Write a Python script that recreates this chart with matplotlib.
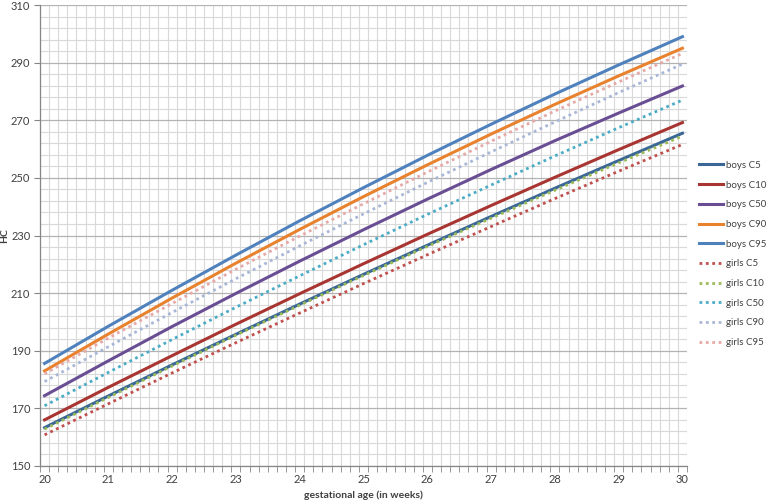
import numpy as np
import matplotlib
matplotlib.use("Agg")
import matplotlib.pyplot as plt
from matplotlib.ticker import FixedLocator

plt.rcParams['font.family'] = ['Lato', 'DejaVu Sans']

# gestational age (weeks) and head circumference values
weeks = [20, 21, 22, 23, 24, 25, 26, 27, 28, 29, 30]

boys_c5 = [163.3, 174.3, 185.1, 195.7, 206.2, 216.5, 226.6, 236.6, 246.4, 256.0, 265.5]
boys_c10 = [166.0, 177.3, 188.3, 199.2, 209.8, 220.2, 230.4, 240.4, 250.2, 259.8, 269.2]
boys_c50 = [174.4, 186.5, 198.4, 209.9, 221.1, 232.0, 242.6, 252.9, 262.9, 272.5, 281.9]
boys_c90 = [183.0, 195.8, 208.3, 220.4, 232.1, 243.5, 254.5, 265.2, 275.5, 285.4, 295.0]
boys_c95 = [185.6, 198.5, 211.0, 223.2, 235.1, 246.6, 257.8, 268.6, 279.1, 289.2, 299.0]

girls_c5 = [160.8, 171.6, 182.3, 192.8, 203.1, 213.3, 223.3, 233.1, 242.8, 252.3, 261.6]
girls_c10 = [162.8, 173.8, 184.7, 195.4, 205.8, 216.1, 226.2, 236.0, 245.7, 255.2, 264.5]
girls_c50 = [170.9, 182.5, 193.9, 205.1, 216.0, 226.8, 237.3, 247.5, 257.6, 267.4, 277.0]
girls_c90 = [179.3, 191.4, 203.3, 215.0, 226.4, 237.5, 248.4, 259.0, 269.4, 279.6, 289.5]
girls_c95 = [182.0, 194.4, 206.4, 218.3, 229.8, 241.0, 252.0, 262.7, 273.2, 283.3, 293.2]

y_ticks = list(range(150, 311, 20))

fig = plt.figure(figsize=(7.78, 5.03), dpi=100)
ax = fig.add_axes([40/778, 1 - 466/503, (687 - 40)/778, (466 - 5)/503])

# boys: solid lines
ax.plot(weeks, boys_c5, color='#3A6795', lw=2.2, label='boys C5')
ax.plot(weeks, boys_c10, color='#A83532', lw=2.2, label='boys C10')
ax.plot(weeks, boys_c50, color='#6A4E94', lw=2.2, label='boys C50')
ax.plot(weeks, boys_c90, color='#E8822E', lw=2.2, label='boys C90')
ax.plot(weeks, boys_c95, color='#4F81BD', lw=2.2, label='boys C95')

# girls: dotted lines
dots = (0, (1, 1.3))
ax.plot(weeks, girls_c5, color='#C0504D', lw=2, ls=dots, label='girls C5')
ax.plot(weeks, girls_c10, color='#9BBB59', lw=2, ls=dots, label='girls C10')
ax.plot(weeks, girls_c50, color='#4BACC6', lw=2, ls=dots, label='girls C50')
ax.plot(weeks, girls_c90, color='#A9B7D6', lw=2, ls=dots, label='girls C90')
ax.plot(weeks, girls_c95, color='#E6A9A7', lw=2, ls=dots, label='girls C95')

half = 1 / 14
ax.set_xlim(20 - half, 30 + half)
ax.set_ylim(150, 310)

ax.xaxis.set_major_locator(FixedLocator(weeks))
day_edges = [20 - half + k / 7 for k in range(72)]
ax.xaxis.set_minor_locator(FixedLocator(day_edges))
ax.yaxis.set_major_locator(FixedLocator(y_ticks))
ax.yaxis.set_minor_locator(FixedLocator(list(range(150, 311, 4))))

ax.grid(which='minor', color='#D9D9D9', lw=0.8)
ax.grid(which='major', axis='y', color='#B3B3B3', lw=0.9)
ax.set_axisbelow(True)

for side in ['top', 'right']:
    ax.spines[side].set_visible(False)
for side in ['left', 'bottom']:
    ax.spines[side].set_color('#868686')
    ax.spines[side].set_linewidth(0.9)

ax.tick_params(axis='both', which='major', labelsize=8, colors='#868686',
               labelcolor='#404040', length=4)
ax.tick_params(axis='y', which='major', pad=3)
ax.tick_params(axis='x', which='major', length=0, pad=6)
ax.tick_params(axis='x', which='minor', length=4, colors='#868686')
ax.tick_params(axis='y', which='minor', length=0)

ax.set_xlabel('gestational age (in weeks)', fontsize=7.5, fontweight='bold',
              color='#404040', labelpad=4)
ax.set_ylabel('HC', fontsize=7.5, fontweight='bold', color='#404040')
ax.yaxis.set_label_coords(-0.047, 0.5)

fig.legend(loc='center left', bbox_to_anchor=(697/778, 1 - 254/503),
           frameon=False, fontsize=7, labelspacing=1.1, handlelength=2.5,
           handletextpad=0.3, labelcolor='#404040', borderpad=0.2,
           borderaxespad=0)

fig.savefig('out.png', dpi=100)
